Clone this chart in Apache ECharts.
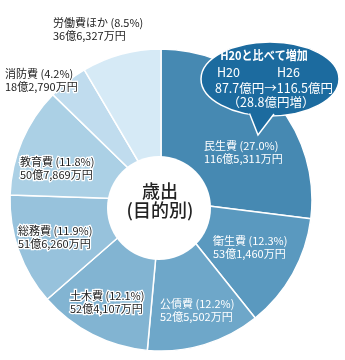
<!DOCTYPE html>
<html>
<head>
<meta charset="utf-8">
<script src="https://cdn.jsdelivr.net/npm/echarts@6/dist/echarts.min.js"></script>
<style>
  html, body { margin: 0; padding: 0; background: #fff; }
  #chart { width: 345px; height: 360px; }
</style>
</head>
<body>
<div id="chart"></div>
<script>
// Expenditure by purpose (歳出・目的別), amounts in 万円
const categories = ['民生費', '衛生費', '公債費', '土木費', '総務費', '教育費', '消防費', '労働費ほか'];
const amounts = [1165311, 531460, 525502, 524107, 516260, 507869, 182790, 366327];
const shares = [27.0, 12.3, 12.2, 12.1, 11.9, 11.8, 4.2, 8.5];

// Slice fills, darkest to lightest
const sliceColors = ['#4689b2', '#5a99bf', '#6ea7c9', '#82b4d2', '#97c2dc', '#abd0e5', '#c0dcee', '#d6eaf6'];
// Labels drawn in white on the darker slices
const whiteLabel = [true, true, true, false, false, false, false, false];
// Top-left anchor of each two-line label
const labelAnchors = [[204, 139], [213, 234], [160, 297], [70, 289], [18, 224], [20, 155], [5, 67], [53, 16]];

const FONT = '"Noto Sans CJK JP", "Noto Sans", sans-serif';

function yen(v) {
  const oku = Math.floor(v / 10000);
  const man = v % 10000;
  return oku + '億' + man.toLocaleString('en-US') + '万円';
}

const chart = echarts.init(document.getElementById('chart'), null, { renderer: 'canvas' });

const darkText = { color: '#222', textBorderColor: '#fff', textBorderWidth: 2.5, fontSize: 11, lineHeight: 13.5, fontFamily: FONT };
const lightText = { color: '#fff', fontSize: 11, lineHeight: 13.5, fontFamily: FONT };

chart.setOption({
  animation: false,
  series: [{
    type: 'pie',
    center: [161, 200],
    radius: [0, 151],
    startAngle: 90,
    clockwise: true,
    avoidLabelOverlap: false,
    itemStyle: { borderColor: '#fff', borderWidth: 1.5 },
    label: {
      show: true,
      position: 'inside',
      formatter: p => {
        const i = p.dataIndex;
        const tag = whiteLabel[i] ? 'w' : 'd';
        return '{' + tag + '|' + categories[i] + ' (' + shares[i].toFixed(1) + '%)}\n{' + tag + '|' + yen(amounts[i]) + '}';
      },
      rich: { w: lightText, d: darkText }
    },
    labelLine: { show: false },
    labelLayout: p => ({
      x: labelAnchors[p.dataIndex][0],
      y: labelAnchors[p.dataIndex][1],
      align: 'left',
      verticalAlign: 'top'
    }),
    emphasis: { disabled: true },
    data: categories.map((c, i) => ({
      name: c,
      value: amounts[i],
      itemStyle: { color: sliceColors[i] }
    }))
  }],
  graphic: [
    // white hole with the centre caption
    {
      type: 'circle', z: 9,
      shape: { cx: 159, cy: 208, r: 52 },
      style: { fill: '#fff' }
    },
    {
      type: 'text', z: 10, x: 160, y: 182,
      style: { text: '歳出\n(目的別)', fill: '#222', font: '500 18px ' + FONT, lineHeight: 19, align: 'center' }
    },
    // call-out bubble
    {
      type: 'ellipse', z: 20,
      shape: { cx: 270, cy: 79, rx: 69, ry: 37 },
      style: { fill: '#1c6b9f', stroke: '#fff', lineWidth: 1.5 }
    },
    {
      type: 'polygon', z: 21,
      shape: { points: [[246, 108], [258, 135], [278, 108]] },
      style: { fill: '#1c6b9f' }
    },
    {
      type: 'polyline', z: 22,
      shape: { points: [[249.5, 113.5], [258, 135], [274, 114]] },
      style: { stroke: '#fff', lineWidth: 1.5, fill: null }
    },
    {
      type: 'text', z: 23, x: 264, y: 49, scaleX: 0.92,
      style: { text: 'H20と比べて増加', fill: '#fff', font: 'bold 12px ' + FONT, align: 'center' }
    },
    {
      type: 'text', z: 23, x: 217, y: 66,
      style: { text: 'H20', fill: '#fff', font: '12.5px ' + FONT }
    },
    {
      type: 'text', z: 23, x: 277, y: 66,
      style: { text: 'H26', fill: '#fff', font: '12.5px ' + FONT }
    },
    {
      type: 'text', z: 23, x: 274, y: 82,
      style: { text: '87.7億円→116.5億円', fill: '#fff', font: '12.5px ' + FONT, align: 'center' }
    },
    {
      type: 'text', z: 23, x: 271, y: 96,
      style: { text: '（28.8億円増）', fill: '#fff', font: '12.5px ' + FONT, align: 'center' }
    }
  ]
});
</script>
</body>
</html>
